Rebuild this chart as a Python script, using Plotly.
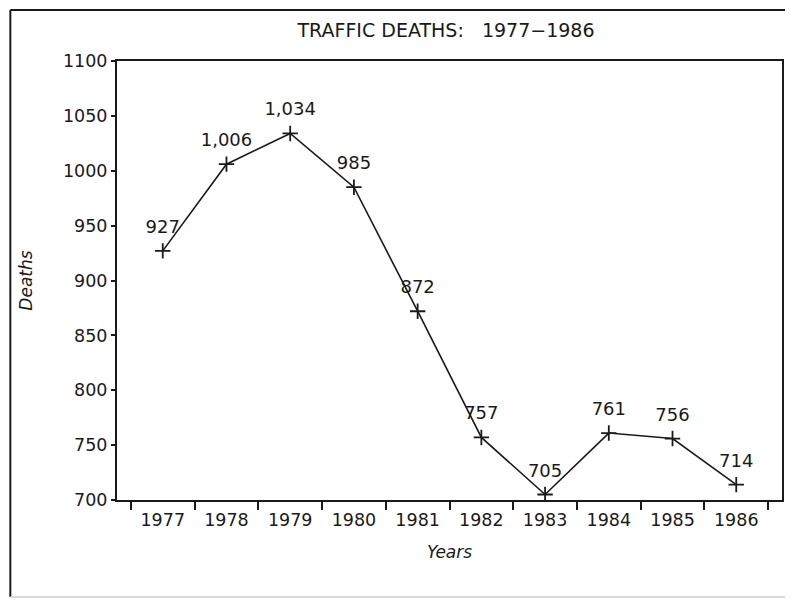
import plotly.graph_objects as go

# Datos
anios = ["1977", "1978", "1979", "1980", "1981", "1982", "1983", "1984", "1985", "1986"]
muertes = [927, 1006, 1034, 985, 872, 757, 705, 761, 756, 714]
etiquetas = [f"{v:,}" for v in muertes]

fuente = "DejaVu Sans"
negro = "#1a1a1a"

fig = go.Figure()

# Línea con cruces
fig.add_trace(go.Scatter(
    x=anios,
    y=muertes,
    mode="lines+markers",
    line=dict(color=negro, width=1.6),
    marker=dict(symbol="cross-thin", size=11, line=dict(color=negro, width=1.8)),
    showlegend=False,
    hoverinfo="x+y",
))

# Etiquetas de valor (marcador invisible más grande para separarlas del punto)
fig.add_trace(go.Scatter(
    x=anios,
    y=muertes,
    mode="markers+text",
    marker=dict(size=20, color="rgba(0,0,0,0)"),
    text=etiquetas,
    textposition="top center",
    textfont=dict(family=fuente, size=18, color=negro),
    cliponaxis=False,
    showlegend=False,
    hoverinfo="skip",
))

# Marco exterior (izquierda, arriba y abajo tenue)
fig.add_shape(type="line", xref="paper", yref="paper",
              x0=-0.1604, y0=-0.221, x1=-0.1604, y1=1.1162,
              line=dict(color=negro, width=2))
fig.add_shape(type="line", xref="paper", yref="paper",
              x0=-0.1604, y0=1.1162, x1=1.05, y1=1.1162,
              line=dict(color=negro, width=2))
fig.add_shape(type="line", xref="paper", yref="paper",
              x0=-0.1604, y0=-0.221, x1=1.05, y1=-0.221,
              line=dict(color="#d8d8d8", width=2))

fig.update_layout(
    width=777,
    height=590,
    title=dict(
        text="TRAFFIC DEATHS:   1977\u22121986",
        x=438 / 777, xanchor="center",
        y=1 - 22 / 590, yanchor="middle",
        font=dict(family=fuente, size=19, color=negro),
    ),
    paper_bgcolor="white",
    plot_bgcolor="white",
    margin=dict(l=109, r=1, t=53, b=98),
    font=dict(family=fuente, color=negro),
    xaxis=dict(
        type="category",
        tickson="boundaries",
        ticks="outside", ticklen=8, tickwidth=2, tickcolor=negro,
        ticklabelstandoff=3,
        showline=True, linewidth=2, linecolor=negro, mirror=True,
        showgrid=False, zeroline=False,
        tickfont=dict(family=fuente, size=17.5, color=negro),
        title=dict(text="<i>Years</i>", standoff=17,
                   font=dict(family=fuente, size=17, color=negro)),
    ),
    yaxis=dict(
        range=[700, 1100],
        dtick=50,
        ticks="outside", ticklen=4, tickwidth=2, tickcolor=negro,
        showline=True, linewidth=2, linecolor=negro, mirror=True,
        showgrid=False, zeroline=False,
        tickfont=dict(family=fuente, size=17.5, color=negro),
        title=dict(text="<i>Deaths</i>", standoff=26,
                   font=dict(family=fuente, size=17, color=negro)),
    ),
)

fig.write_html("out.html")
